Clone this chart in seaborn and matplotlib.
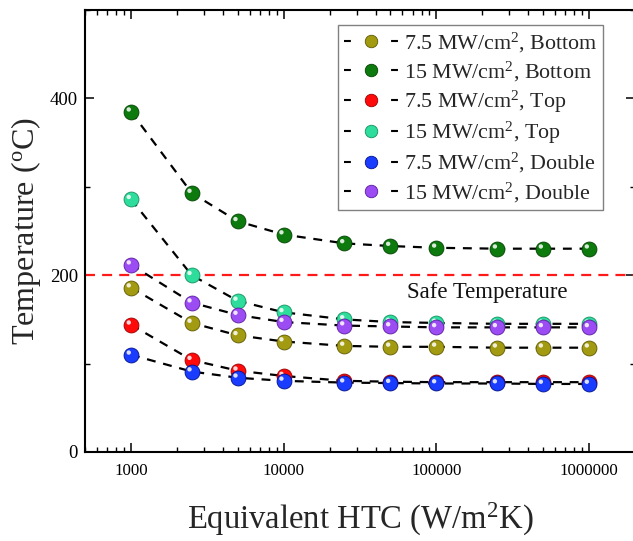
import numpy as np
import pandas as pd
import matplotlib
matplotlib.use("Agg")
import matplotlib.pyplot as plt
import matplotlib.transforms as mtransforms
from matplotlib.lines import Line2D
from matplotlib.ticker import FixedLocator, LogLocator, MultipleLocator, NullFormatter
import seaborn as sns

# ---------------- data ----------------
htc = [1000, 2500, 5000, 10000, 25000, 50000, 100000, 250000, 500000, 1000000]

t_75_bottom = [186, 146, 132, 125, 120, 119, 119, 118, 118, 118]
t_15_bottom = [385, 293, 261, 246, 236, 233, 231, 230, 230, 230]
t_75_top = [144, 104, 92, 86, 80.5, 79.5, 79, 79, 79, 79]
t_15_top = [286, 200, 171, 158, 150, 147, 146, 145, 145, 145]
t_75_double = [110, 91, 84, 80.5, 78.5, 78, 77.5, 77.5, 77, 77]
t_15_double = [212, 169, 155, 147, 143, 142, 141, 141, 141, 141]

series_labels = [
    "7.5 MW/cm$^{\\mathrm{2}}$, Bottom",
    "15 MW/cm$^{\\mathrm{2}}$, Bottom",
    "7.5 MW/cm$^{\\mathrm{2}}$, Top",
    "15 MW/cm$^{\\mathrm{2}}$, Top",
    "7.5 MW/cm$^{\\mathrm{2}}$, Double",
    "15 MW/cm$^{\\mathrm{2}}$, Double",
]
series_values = [t_75_bottom, t_15_bottom, t_75_top, t_15_top, t_75_double, t_15_double]
series_colors = ["#a29a10", "#0c7a0c", "#ff0a0a", "#2edc9c", "#1a3cff", "#9b4cf2"]
edge_colors = ["#5e5800", "#034203", "#9a0000", "#129060", "#00108a", "#5a1aa0"]

safe_temp = 200
safe_label = "Safe Temperature"
x_ticks = [1000, 10000, 100000, 1000000]
x_tick_labels = ["1000", "10000", "100000", "1000000"]
y_ticks = [0, 200, 400]
y_tick_labels = ["0", "200", "400"]

# ---------------- style ----------------
sns.set_theme(style="ticks")
plt.rcParams["font.family"] = ["Liberation Serif", "DejaVu Serif"]
plt.rcParams["mathtext.fontset"] = "custom"
plt.rcParams["mathtext.rm"] = "Liberation Serif"
plt.rcParams["mathtext.it"] = "Liberation Serif:italic"
plt.rcParams["mathtext.bf"] = "Liberation Serif:bold"

fig = plt.figure(figsize=(6.33, 5.41), dpi=100)
ax = fig.add_axes([85 / 633, 89 / 541, 550 / 633, 442 / 541])

df = pd.DataFrame({
    "HTC": np.tile(htc, len(series_labels)),
    "T": np.concatenate([np.asarray(v, float) for v in series_values]),
    "series": np.repeat(series_labels, len(htc)),
})

# dashed guide curves
for lab in series_labels:
    sub = df[df["series"] == lab]
    sns.lineplot(data=sub, x="HTC", y="T", ax=ax, color="black", lw=1.6,
                 linestyle=(0, (4, 3.5)), estimator=None, sort=True,
                 legend=False, zorder=2)

# sphere-like markers
hl_offset = ax.transData + mtransforms.ScaledTranslation(-1.6 / 72, 1.6 / 72, fig.dpi_scale_trans)
for lab, c, ec in zip(series_labels, series_colors, edge_colors):
    sub = df[df["series"] == lab]
    sns.scatterplot(data=sub, x="HTC", y="T", ax=ax, color=c, edgecolor=ec,
                    linewidth=0.6, s=115, legend=False, zorder=3)
    sns.scatterplot(data=sub, x="HTC", y="T", ax=ax, color="white", edgecolor="none",
                    linewidth=0, s=10, alpha=0.85, legend=False, zorder=3)
    ax.collections[-1].set_offset_transform(hl_offset)

ax.axhline(safe_temp, color="#ff1a1a", lw=1.6, linestyle=(0, (4.5, 3.2)), zorder=1)
ax.text(2.14e5, 180, safe_label, ha="center", va="center", fontsize=16.4, color="#111111")

ax.set_xscale("log")
ax.set_xlim(500, 2e6)
ax.set_ylim(0, 500)
ax.xaxis.set_major_locator(FixedLocator(x_ticks))
ax.set_xticklabels(x_tick_labels)
ax.xaxis.set_minor_locator(LogLocator(base=10, subs=np.arange(2, 10)))
ax.xaxis.set_minor_formatter(NullFormatter())
ax.yaxis.set_major_locator(FixedLocator(y_ticks))
ax.set_yticklabels(y_tick_labels)
ax.yaxis.set_minor_locator(MultipleLocator(100))

ax.tick_params(which="both", direction="in", top=True, right=True, colors="black")
ax.tick_params(axis="x", labelsize=12.2)
ax.tick_params(axis="y", labelsize=13.5)
ax.tick_params(which="major", length=6.5, width=1.1)
ax.tick_params(which="minor", length=3.6, width=1.0)
ax.tick_params(axis="x", which="major", pad=8)
ax.tick_params(axis="y", which="major", pad=5)
for sp in ax.spines.values():
    sp.set_linewidth(1.5)
    sp.set_color("black")

ax.set_xlabel("Equivalent HTC (W/m$^{\\mathrm{2}}$K)", fontsize=23.5)
ax.set_ylabel("Temperature ($^{\\mathrm{o}}$C)", fontsize=23.1)
ax.xaxis.set_label_coords(0.5, -0.111)
ax.yaxis.set_label_coords(-0.076, 0.5)

handles = [
    Line2D([], [], color="black", lw=1.5, linestyle=(0, (3.3, 19.3)), marker="o",
           markersize=9, markerfacecolor=c, markeredgecolor=ec, markeredgewidth=0.6)
    for c, ec in zip(series_colors, edge_colors)
]
leg = ax.legend(handles, series_labels, loc="upper right", bbox_to_anchor=(0.942, 0.966),
                borderaxespad=0, fontsize=15.8, handlelength=2.45, handletextpad=0.3,
                labelspacing=0.23, borderpad=0.25, frameon=True, fancybox=False,
                edgecolor="#808080", framealpha=1)
leg.get_frame().set_linewidth(1.0)

fig.savefig("out.png", dpi=100)
